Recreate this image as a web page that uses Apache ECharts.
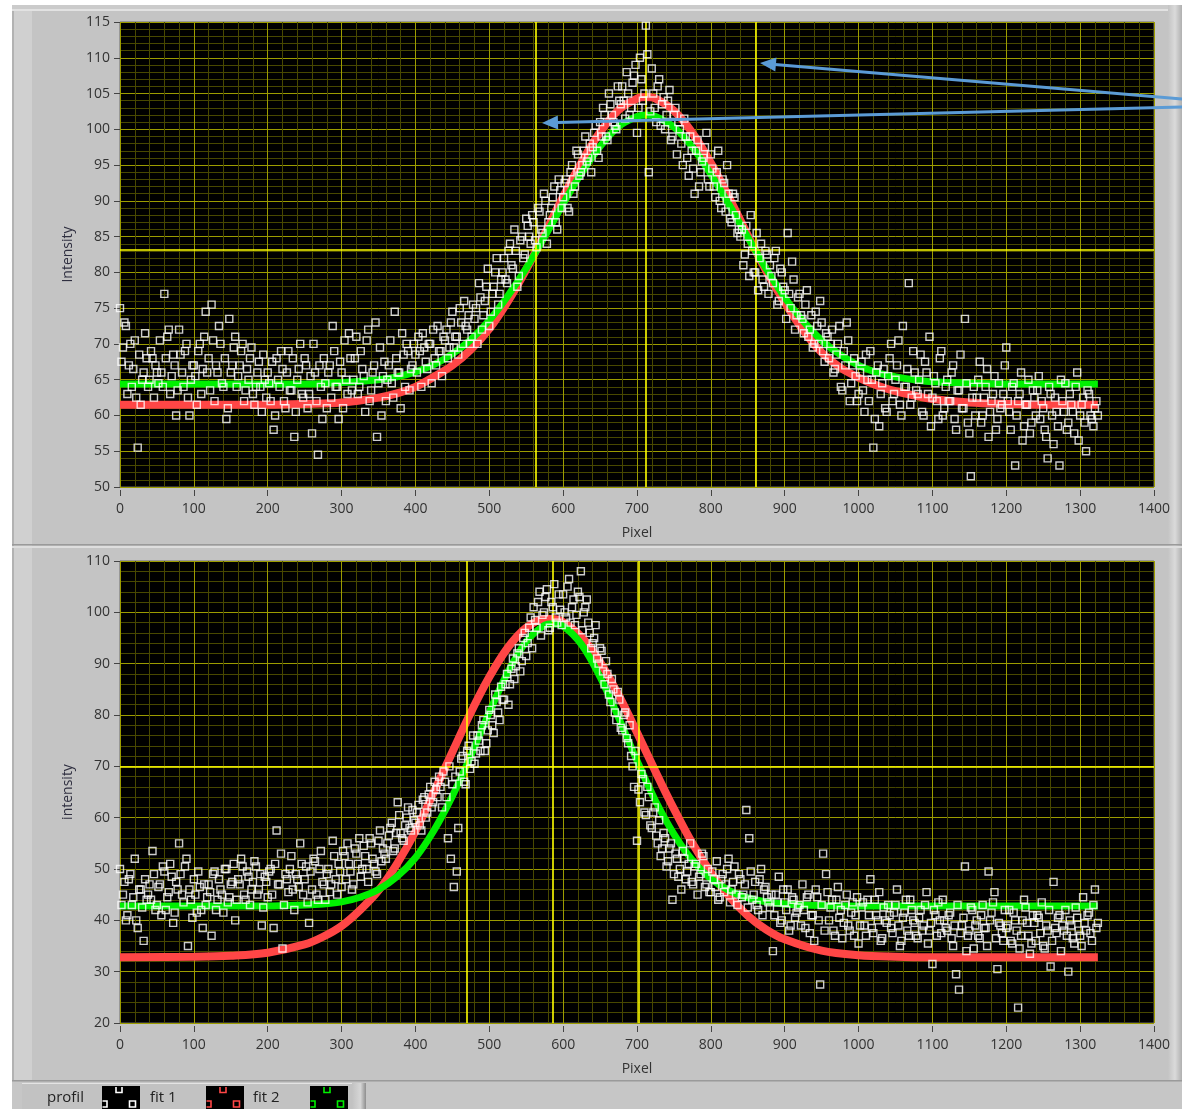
<!DOCTYPE html>
<html>
<head>
<meta charset="utf-8">
<script src="https://cdn.jsdelivr.net/npm/echarts/dist/echarts.min.js"></script>
<style>
html,body{margin:0;padding:0;background:#fff;}
#chart{width:1182px;height:1109px;}
</style>
</head>
<body>
<div id="chart"></div>
<script>
// ---------- DATA ----------
const X_STEP = 4;   // pixel spacing of each profile sample array
const X_OFFSET_B = 2; // second array sits between the first array's samples

const xTickMax = 1400;
const topYRange = [50, 115];
const botYRange = [20, 110];

// top graph: measured profile, x = index * X_STEP
const topProfile = [
 75,69.5,72.5,67,64,70.5,55.5,61.5,66,68,
 65,68,67,64.5,66,77,71,63,68.5,60,
 72,66,69,62.5,65,67,61.5,70,66.5,74.5,
 68,75.5,62,66,70,64,59.5,73.5,67,71,
 65.5,69,62,66.5,68,63,64,67.5,60.5,65,
 66,62,58,68,64,66.5,61,69,63.5,57,
 65,70,62.5,67,63,57.5,66,54.5,64,68,
 61,67,72.5,64,59.5,66,70.5,63,68,65,
 71,64,66.5,60.5,72,63.5,67,57,69.5,65.5,
 62,67,64.5,74.5,66,61,68.5,70,63.5,67,
 68.5,71,64,69.5,66.5,70,72,67,69,65.5,
 70.5,68,73,69.5,71,75,70,72.5,74,71,
 73.5,70,76.5,74,78,72.5,77,80,75.5,79,
 82,78.5,84,80.5,83,79.5,85,82.5,86.5,84,
 87,83.5,88.5,85.5,90,87,89,92,86,91.5,
 90.5,93,88.5,95,92,96.5,94,97,95.5,98,
 97.5,100.5,96,99,102,98.5,103.5,101,100,104,
 106,101.5,105,103,107.5,99.5,110,104,114.5,94,
 108.5,103,106,100.5,104.5,102,105.5,99,103,101,
 98,101.5,96,99,94.5,97,92,95.5,97.5,93,
 96.5,92,94,90,93,88.5,91,87,90.5,85.5,
 85,81,86.5,79.5,83,80,77.5,84,78,82.5,
 81,78.5,83,76,80,77.5,85.5,75,79,74,
 77,73.5,75.5,71,74,70,72.5,76,69,71.5,
 68,72,66.5,70,64,69,73,62,67,65.5,
 63,67.5,60.5,65,69,55.5,66,58.5,64.5,61,
 65.5,70,63,67,61.5,72.5,64,78.5,62.5,66,
 63,68.5,60,66,71,62.5,64.5,59.5,69,61,
 65,62,67,58,63.5,61,73.5,59,51.5,64,
 62.5,67.5,60,64,57,62,65.5,59.5,61,63,
 69.5,60.5,64,53,62,66,58.5,61.5,57.5,63.5,
 60,65.5,62,58,54,63,56,60.5,53,62,
 64.5,59,61.5,57.5,66,60,62.5,55,63,59.5,
 61,60
];
// top graph: measured profile, x = X_OFFSET_B + index * X_STEP
const topProfileB = [
 67.5,73,63,70,66.5,62.5,68.5,65,71.5,64,
 69,62.5,66,70.5,64,68,72,65.5,67,63.5,
 68.5,64,70,60,67,65.5,69,63,71,66,
 63.5,70.5,67,72.5,64.5,68,61,66,69.5,64,
 67,70,63.5,65,69.5,61.5,66,64,68.5,62.5,
 64.5,67.5,60,65,69,62,66,63.5,68,60.5,
 66.5,63,68,61,65.5,70,62,67,59.5,64.5,
 66,62.5,69,64,67.5,61,65,71.5,63.5,68,
 63,69,65.5,70.5,62,66,73,64.5,60,67.5,
 65,70.5,62.5,68,66,71.5,64,69,66.5,70,
 66,69,71.5,67.5,70,64.5,68,72.5,69,71,
 72,69.5,74.5,71,68.5,73,76,72,70,75.5,
 75,78.5,72,76,80.5,74.5,78,82,77,80,
 79,83,81,86,78,84.5,82,87.5,85,88,
 84.5,89,86,91,84,88,90.5,87,93,89,
 92.5,89,94,91,97,93.5,95,99,96,94,
 99.5,97,101,103,99,105,102,100.5,106,103.5,
 104,108,102,106.5,109,103,107,105,110.5,102.5,
 105,101,107,103.5,100,104,98.5,102,96.5,100,
 95,99,93.5,97,91,98.5,94,96,99.5,92,
 94.5,90.5,97,89,92.5,95,87.5,91,88,86,
 86,82.5,84,88,80,85.5,82,79,83,77,
 79.5,82,75.5,80.5,78,73.5,77,81.5,72,76.5,
 74,71.5,77.5,72,69.5,74.5,70,73,67.5,71,
 70,66,68.5,72.5,63.5,67,70.5,64.5,68,62,
 66,63.5,68.5,62,65,59.5,67,63,66.5,60.5,
 68,62,65,70.5,60,64,66.5,61.5,69,63.5,
 65,60.5,67.5,63,58.5,65.5,62,68,60,64,
 62,66,59.5,63.5,68.5,61,64.5,57.5,62.5,60,
 65,59,62.5,66.5,60.5,63,58,64.5,61.5,67,
 62,58,64.5,60,63,56.5,61.5,65,59,62.5,
 63.5,59.5,61,57,64,60,62.5,58.5,65,60.5,
 58,63,60.5,64,56.5,61.5,59,63.5,60,58.5,
 62
];

// top graph: fit curves sampled along x
const topFitX = [0,100,200,250,300,350,375,400,425,450,475,500,525,550,575,600,625,650,675,700,712,725,750,775,800,825,850,875,900,925,950,975,1000,1025,1050,1075,1100,1150,1200,1250,1324];
const topFit1 = [61.5,61.5,61.5,61.6,61.8,62.5,63.1,64.0,65.4,67.0,69.2,72.1,75.9,80.4,85.4,90.6,95.4,99.6,102.7,104.3,104.5,104.3,102.6,99.5,95.3,90.4,85.2,80.2,75.8,71.9,68.8,66.7,65.3,64.2,63.4,62.8,62.3,61.8,61.6,61.5,61.5];
const topFit2 = [64.4,64.4,64.4,64.4,64.6,65.0,65.4,66.1,67.1,68.6,70.6,73.3,76.7,80.6,85.0,89.6,93.9,97.6,100.4,101.8,102.0,101.8,100.3,97.5,93.7,89.4,84.9,80.5,76.5,73.2,70.5,68.5,67.0,66.0,65.4,65.0,64.7,64.5,64.4,64.4,64.4];

// top graph cursors
const topCursorX = [563, 712, 861];
const topCursorY = [83.1];

// bottom graph: measured profile, x = index * X_STEP
const botProfile = [
 50,45,40,48,43,52,38.5,46,36,44,
 47,53.5,42,46.5,41,49.5,44.5,51,39.5,47.5,
 55,45,50.5,35,44,48,41.5,46.5,38.5,43,
 47,37,49.5,44,46,41.5,50,44.5,47.5,40,
 48,52,45,49.5,43,47.5,50.5,46,39,48.5,
 44.5,50,38.5,57.5,47,34.5,49,45.5,52.5,42,
 48,55,45,50.5,39.5,46,51.5,44,53.5,47,
 49,45.5,55.5,48,51,46.5,52.5,55,49.5,47,
 53,56,50,52.5,47.5,55,51,49,57.5,54,
 52,56.5,59,54,63,57,55.5,60,58,61.5,
 59,62.5,57.5,64,61,66,63,65.5,68,62,
 67,56,52,46.5,49.5,69,72,66.5,74,71,
 70.5,76,73,79,74.5,81,78,84,80.5,85.5,
 83,88,86,91,89.5,93,90.5,96,94,99,
 101,97,104,99.5,103,96.5,102,105.5,98,100.5,
 103.5,99,106.5,101,97.5,104,108,100,102.5,96,
 94,97.5,90,92.5,86,88,82.5,85,79,83,
 77,80.5,74.5,72,66,55.5,63,67.5,60.5,64,
 58,62,55,52.5,57,50.5,54,44,53,48.5,
 46,52,49.5,55,47,51,48.5,53,46.5,50,
 45.5,48,51.5,44.5,49,47,52,46,50.5,43,
 48,45,61.5,56,44,47.5,42,50,46,44.5,
 42.5,34,45,48.5,40,43.5,46,39,44,41.5,
 43,47,38.5,45,41,36,44.5,27.5,53,49,
 40,44,37,46.5,42,39.5,45,38,43.5,41,
 35.5,42.5,39,44,48,37.5,41,45.5,36.5,40,
 43,38.5,41.5,46,35,40.5,44,37,42,39.5,
 36.5,42,39,45.5,38,31.5,41,43.5,37.5,40,
 38,41.5,35,29.5,26.5,39,50.5,37,42.5,34.5,
 40,36.5,43,38.5,49.5,41.5,45.5,30.5,39,36,
 38.5,42,35.5,40,23,37,44,39.5,33.5,41,
 36,40.5,43.5,34.5,38,31,47.5,37.5,41,39,
 42,30,39,35.5,40.5,37,44.5,38,41.5,36,
 46,39.5
];
// bottom graph: measured profile, x = X_OFFSET_B + index * X_STEP
const botProfileB = [
 43,47.5,41,49,44.5,40,46,42.5,48,45,
 44,49,43,47,50.5,42,45.5,48.5,41.5,46,
 49,43.5,52,46,40.5,45,49.5,42,47,44.5,
 45.5,49,42,48,45,50,43.5,47,51,44,
 47,50.5,44,48.5,46,51.5,45,49,42.5,47.5,
 49.5,45,51,47,53,43,48,50,46,49,
 46.5,51,48,43.5,49.5,52,45,50,47.5,44,
 50,47,52.5,45,49.5,53.5,48,51,46,54,
 51,48.5,54.5,50,56,52,49.5,55.5,51.5,53,
 55,58,53.5,57,60.5,56,58.5,62,57.5,59.5,
 61,58.5,63.5,60,64.5,62,67,64,66,69,
 64,70,66.5,68,58,71.5,67,73,69.5,76,
 72.5,75,78,73,77,80,76.5,82.5,79,83,
 86,82,89,87,92,88.5,95,91.5,97,93,
 98.5,102,95.5,100,104.5,97,101,99,103.5,97.5,
 100,105,98,102.5,99.5,103,96.5,101,98,93,
 95,91,93,88.5,90.5,84,87,80.5,84.5,77.5,
 80,75.5,78,70,73,65.5,68.5,61,66,58.5,
 61,56.5,59.5,54,56,51.5,55,49,52,50,
 53.5,48,51,47.5,50.5,45,49,52.5,47,45.5,
 49.5,46.5,44,48,45.5,50,43.5,47.5,45,49,
 44.5,47,42.5,49.5,45,43,48,41,46.5,43.5,
 45,41,43.5,39.5,46,42,38,44.5,40.5,42.5,
 39,42,44.5,37.5,41,46,40,43,38,45.5,
 42.5,38,44,40.5,36.5,43,39,41.5,37,44.5,
 39,43.5,37,41,38.5,44,40,36,42.5,39.5,
 41,37.5,43,39,36,41.5,38,44,40,37,
 40.5,38,43,35.5,39.5,42,37,40,44,38.5,
 41,36.5,39,43,37.5,40.5,34,38,42,39,
 37,41,38.5,35,40,43.5,36.5,39.5,37.5,42,
 39,36,41.5,38,34.5,40,42.5,37,35.5,39.5,
 41,37.5,35,39,42,36,38.5,40.5,34,38,
 37,40,36.5,42.5,38,35,39.5,41,37.5,43,
 38.5
];

const botFitX = [0,100,150,200,250,275,300,325,350,375,400,425,450,475,500,525,550,575,586,600,625,650,675,700,725,750,775,800,825,850,875,900,950,1000,1050,1100,1200,1324];
const botFit1 = [32.8,32.9,33.1,33.7,35.3,36.8,38.9,42.0,45.8,51.0,57.3,65.0,72.8,80.5,87.4,93.1,97.0,98.7,98.7,98.1,95.2,90.3,83.9,76.6,69.0,61.7,55.0,49.3,44.6,40.9,38.2,36.3,34.1,33.2,32.9,32.8,32.8,32.8];
const botFit2 = [42.8,42.8,42.8,42.8,43.0,43.2,43.6,44.5,46.0,48.5,52.2,57.5,64.2,72.1,80.5,88.3,94.3,97.5,97.8,97.3,93.7,87.4,79.5,71.1,63.3,56.8,51.7,48.1,45.8,44.4,43.6,43.2,42.9,42.8,42.8,42.8,42.8,42.8];

const botCursorX = [470, 586, 703];
const botCursorY = [70];

const legendNames = ['profil', 'fit 1', 'fit 2'];

// ---------- STYLE ----------
const FONT = '"Open Sans", "Noto Sans", sans-serif';
const MAJOR = '#9c9c00';
const MINOR = '#484800';
const CURSOR = '#ffff00';
const RED = '#ff4646';
const GREEN = '#00f000';
const TXT = '#333';

function profilePairs(ys, off){ return ys.map((y,i)=>[off + i*X_STEP, y]); }
function pairs(xs, ys){ return xs.map((x,i)=>[x, ys[i]]); }

function xAxisCfg(gi){
  return {
    gridIndex: gi, type: 'value', min: 0, max: xTickMax, interval: 100,
    name: 'Pixel', nameLocation: 'middle', nameGap: 36,
    nameTextStyle: {fontFamily: FONT, fontSize: 14, color: TXT},
    offset: 3,
    axisLine: {show: false},
    axisTick: {show: true, length: 6, lineStyle: {color: '#444', width: 1}},
    axisLabel: {margin: 12, fontFamily: FONT, fontSize: 14, color: TXT, formatter: v => String(v)},
    splitLine: {show: true, lineStyle: {color: MAJOR, width: 1}},
    minorTick: {show: false, splitNumber: 5},
    minorSplitLine: {show: true, lineStyle: {color: MINOR, width: 1}}
  };
}
function yAxisCfg(gi, range, step, name){
  return {
    gridIndex: gi, type: 'value', min: range[0], max: range[1], interval: step,
    name: name, nameLocation: 'middle', nameGap: 41, nameRotate: 90,
    nameTextStyle: {fontFamily: FONT, fontSize: 14, color: '#2f2f40'},
    offset: 3,
    axisLine: {show: false},
    axisTick: {show: true, length: 6, lineStyle: {color: '#444', width: 1}},
    axisLabel: {margin: 7, fontFamily: FONT, fontSize: 14, color: TXT, formatter: v => String(v)},
    splitLine: {show: true, lineStyle: {color: MAJOR, width: 1}},
    minorTick: {show: false, splitNumber: 5},
    minorSplitLine: {show: true, lineStyle: {color: MINOR, width: 1}}
  };
}
function cursorLines(xs, ys){
  return {
    silent: true, symbol: ['none','none'], label: {show: false},
    lineStyle: {color: CURSOR, width: 1.6, type: 'solid'},
    emphasis: {disabled: true},
    data: xs.map(v=>({xAxis: v})).concat(ys.map(v=>({yAxis: v})))
  };
}
function profileSeries(gi, ysA, ysB){
  return {
    name: 'profil', type: 'scatter', xAxisIndex: gi, yAxisIndex: gi,
    data: profilePairs(ysA, 0).concat(profilePairs(ysB, X_OFFSET_B)),
    symbol: 'rect', symbolSize: 7, z: 5,
    itemStyle: {color: 'rgba(0,0,0,0)', borderColor: '#ffffff', borderWidth: 1.4},
    silent: true, animation: false, large: false
  };
}
function fitSeries(gi, name, xs, ys, color, width, z, mark){
  const s = {
    name: name, type: 'line', xAxisIndex: gi, yAxisIndex: gi,
    data: pairs(xs, ys), showSymbol: false, smooth: 0.35, z: z,
    lineStyle: {color: color, width: width}, itemStyle: {color: color},
    silent: true, animation: false
  };
  if (mark) s.markLine = mark;
  return s;
}

// legend swatch helper (black box with three hollow markers)
function swatch(x0, y0, color){
  const ls = {stroke: color, lineWidth: 1.6, fill: null};
  return [
    {type: 'rect', shape: {x: x0, y: y0, width: 38, height: 23}, style: {fill: '#000'}, z: 100},
    {type: 'polyline', shape: {points: [[x0+14,y0+1],[x0+14,y0+6.5],[x0+20,y0+6.5],[x0+20,y0+1]]}, style: ls, z: 101},
    {type: 'polyline', shape: {points: [[x0+0.5,y0+15],[x0+5,y0+15],[x0+5,y0+21],[x0+0.5,y0+21]]}, style: ls, z: 101},
    {type: 'rect', shape: {x: x0+27.5, y: y0+15, width: 6, height: 6}, style: ls, z: 101}
  ];
}
function legendText(x, txt){
  return {type: 'text', x: x, y: 1098, z: 101,
    style: {text: txt, fill: '#222', font: '15px ' + FONT, verticalAlign: 'middle', align: 'left'}};
}

const frame = [
  {type:'rect', shape:{x:0,y:0,width:12,height:1109}, style:{fill:'#ffffff'}, z:-10},
  {type:'rect', shape:{x:0,y:0,width:1182,height:5}, style:{fill:'#ffffff'}, z:-10},
  {type:'rect', shape:{x:12,y:5,width:20,height:1076}, style:{fill:'#d0d0d0'}, z:-9},
  {type:'rect', shape:{x:12,y:5,width:2,height:1076}, style:{fill:'#b2b2b2'}, z:-8},
  {type:'rect', shape:{x:12,y:5,width:1170,height:4}, style:{fill:'#cbcbcb'}, z:-8},
  {type:'rect', shape:{x:12,y:9,width:1170,height:2}, style:{fill:'#e2e2e2'}, z:-8},
  {type:'rect', shape:{x:1168,y:5,width:14,height:1076}, z:-8,
    style:{fill:{type:'linear',x:0,y:0,x2:1,y2:0,colorStops:[{offset:0,color:'#c4c4c4'},{offset:0.5,color:'#dadada'},{offset:1,color:'#b0b0b0'}]}}},
  {type:'rect', shape:{x:12,y:544,width:1170,height:1.5}, style:{fill:'#9a9a9a'}, z:-7},
  {type:'rect', shape:{x:12,y:546,width:1170,height:2}, style:{fill:'#dedede'}, z:-7},
  {type:'rect', shape:{x:12,y:1080,width:1170,height:1.5}, style:{fill:'#9a9a9a'}, z:-7},
  {type:'rect', shape:{x:12,y:1082,width:1170,height:27}, style:{fill:'#c6c6c6'}, z:-7},
  {type:'rect', shape:{x:22,y:1083,width:340,height:26}, style:{fill:'#c2c2c2'}, z:-6},
  {type:'rect', shape:{x:22,y:1083,width:340,height:1}, style:{fill:'#e4e4e4'}, z:-6},
  {type:'rect', shape:{x:352,y:1083,width:14,height:26}, z:-6,
    style:{fill:{type:'linear',x:0,y:0,x2:1,y2:0,colorStops:[{offset:0,color:'#c2c2c2'},{offset:0.6,color:'#d6d6d6'},{offset:1,color:'#8e8e8e'}]}}}
];

// blue annotation arrows
const arrows = [
  {type:'line', shape:{x1:1182,y1:99,x2:775,y2:64.4}, style:{stroke:'#5b9bd5', lineWidth:3}, z:110},
  {type:'polygon', shape:{points:[[760,63],[776.5,57.4],[775.3,71.4]]}, style:{fill:'#5b9bd5'}, z:110},
  {type:'line', shape:{x1:1182,y1:107,x2:557,y2:122.6}, style:{stroke:'#5b9bd5', lineWidth:3}, z:110},
  {type:'polygon', shape:{points:[[542,123],[557.8,115.6],[558.2,129.6]]}, style:{fill:'#5b9bd5'}, z:110}
];

const legendEls = [
  legendText(47, legendNames[0]), ...swatch(102, 1086, '#ffffff'),
  legendText(150, legendNames[1]), ...swatch(206, 1086, RED),
  legendText(253, legendNames[2]), ...swatch(310, 1086, GREEN)
];

const chart = echarts.init(document.getElementById('chart'), null, {renderer: 'canvas'});
chart.setOption({
  animation: false,
  backgroundColor: '#c4c4c4',
  grid: [
    {left: 120, top: 22, width: 1034, height: 465, show: true, backgroundColor: '#000', borderColor: '#6a6a6a', borderWidth: 1},
    {left: 120, top: 561, width: 1034, height: 462, show: true, backgroundColor: '#000', borderColor: '#6a6a6a', borderWidth: 1}
  ],
  xAxis: [xAxisCfg(0), xAxisCfg(1)],
  yAxis: [yAxisCfg(0, topYRange, 5, 'Intensity'), yAxisCfg(1, botYRange, 10, 'intensity')],
  series: [
    fitSeries(0, 'fit 1', topFitX, topFit1, RED, 8, 2),
    fitSeries(0, 'fit 2', topFitX, topFit2, GREEN, 7, 3, cursorLines(topCursorX, topCursorY)),
    profileSeries(0, topProfile, topProfileB),
    fitSeries(1, 'fit 1', botFitX, botFit1, RED, 8, 2),
    fitSeries(1, 'fit 2', botFitX, botFit2, GREEN, 7, 3, cursorLines(botCursorX, botCursorY)),
    profileSeries(1, botProfile, botProfileB)
  ],
  graphic: {elements: frame.concat(arrows, legendEls)}
});
</script>
</body>
</html>
